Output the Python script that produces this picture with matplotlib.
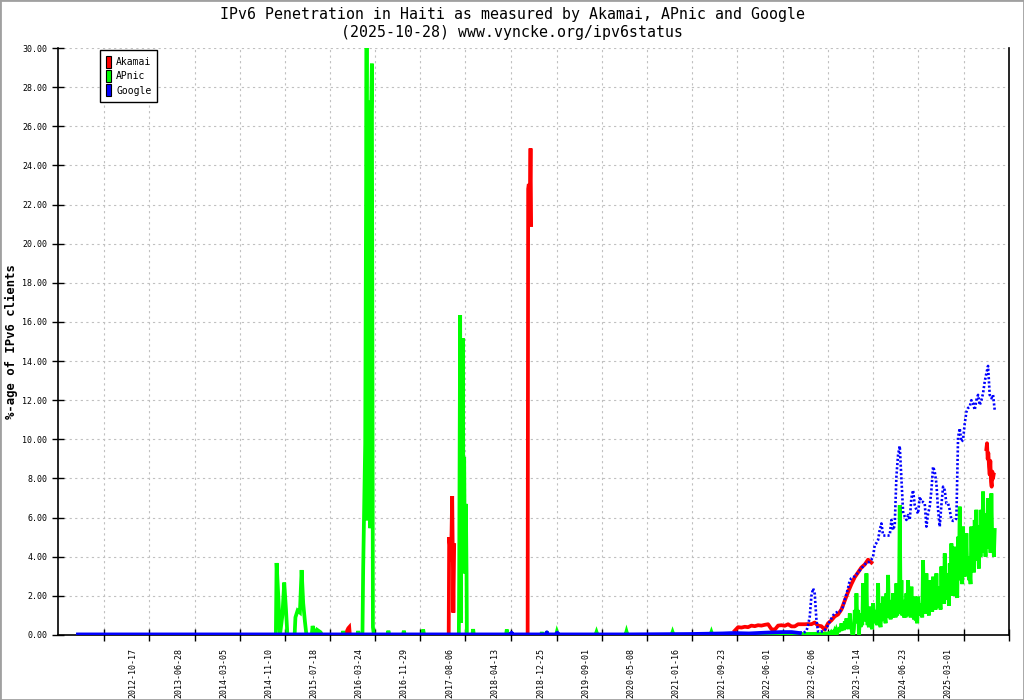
import numpy as np
import pandas as pd
import matplotlib
matplotlib.use('Agg')
import matplotlib.pyplot as plt
from matplotlib.patches import Patch, Rectangle
import matplotlib.transforms as mtransforms

nan = np.nan

# Akamai: einzelne Spitzen (Dezimaljahre) und die letzten Perioden
akamai_years = [2015.780, 2015.786, 2015.801, 2015.816, 2015.829, 2015.839, 2015.840,
                2017.340, 2017.347, 2017.358, 2017.369, 2017.381, 2017.393, 2017.411, 2017.423, 2017.424,
                2018.539, 2018.547, 2018.557, 2018.568, 2018.583, 2018.592, 2018.593]
akamai_vals = [0.00, 0.10, 0.25, 0.35, 0.40, 0.00, nan,
               0.00, 5.00, 4.60, 3.75, 4.80, 7.10, 1.14, 4.60, nan,
               0.00, 22.80, 23.05, 20.95, 24.87, 20.95, nan]
akamai_recent_span = (2021.685, 2023.760)
akamai_recent = [0.22, 0.40, 0.38, 0.42, 0.40, 0.48, 0.45, 0.50, 0.48, 0.52,
                 0.55, 0.30, 0.27, 0.48, 0.50, 0.47, 0.55, 0.44, 0.44, 0.55,
                 0.55, 0.55, 0.56, 0.55, 0.64, 0.48, 0.45, 0.27, 0.60, 0.75,
                 0.95, 1.05, 1.30, 1.75, 2.20, 2.60, 2.95, 3.20, 3.45, 3.60,
                 3.85, 3.70]
akamai_late_span = (2025.506, 2025.617)
akamai_late = [9.50, 9.80, 9.00, 9.30, 8.60, 8.20, 8.90, 7.84, 7.58, 8.35, 8.00, 8.20]

# APnic
apnic_years = [2011.709, 2014.715, 2014.726, 2014.754, 2014.777, 2014.814, 2014.842, 2014.868, 2014.890,
               2015.000, 2015.012, 2015.045, 2015.080, 2015.106, 2015.130, 2015.156, 2015.179,
               2015.260, 2015.273, 2015.297, 2015.320, 2015.343, 2015.394, 2015.414,
               2015.725, 2015.738, 2015.750, 2015.952, 2015.965, 2015.978,
               2016.030, 2016.041, 2016.072, 2016.093, 2016.108, 2016.117, 2016.132, 2016.148,
               2016.158, 2016.173, 2016.189, 2016.204,
               2016.410, 2016.424, 2016.438, 2016.645, 2016.659, 2016.673, 2016.938, 2016.952, 2016.966,
               2017.494, 2017.499, 2017.514, 2017.525, 2017.535, 2017.545, 2017.555, 2017.566,
               2017.575, 2017.586, 2017.601, 2017.611, 2017.616,
               2017.700, 2017.711, 2017.722, 2018.210, 2018.223, 2018.236,
               2018.745, 2018.755, 2018.765, 2018.820, 2018.831, 2018.842, 2018.970, 2018.982, 2018.995,
               2019.570, 2019.585, 2019.600, 2020.025, 2020.040, 2020.055,
               2020.725, 2020.740, 2020.755, 2021.315, 2021.330, 2021.345,
               2021.660, 2022.500, 2022.900, 2023.100]
apnic_vals = [0.00, 0.00, 3.68, 1.83, 0.00, 1.00, 2.68, 1.33, 0.00,
              0.00, 0.90, 1.25, 1.15, 3.32, 1.63, 0.70, 0.00,
              0.00, 0.46, 0.18, 0.00, 0.26, 0.14, 0.00,
              0.00, 0.20, 0.00, 0.00, 0.20, 0.00,
              0.00, 3.38, 9.78, 30.00, 5.86, 27.30, 20.70, 5.46,
              25.80, 29.20, 0.40, 0.00,
              0.00, 0.22, 0.00, 0.00, 0.22, 0.00, 0.00, 0.28, 0.00,
              0.00, 2.80, 16.35, 0.63, 11.80, 3.20, 15.16, 3.20,
              9.10, 3.15, 6.70, 3.15, 0.00,
              0.00, 0.30, 0.00, 0.00, 0.28, 0.00,
              0.00, 0.15, 0.00, 0.00, 0.18, 0.00, 0.00, 0.15, 0.00,
              0.00, 0.15, 0.00, 0.00, 0.18, 0.00,
              0.00, 0.15, 0.00, 0.00, 0.15, 0.00,
              0.03, 0.04, 0.06, 0.08]
apnic_recent_span = (2023.128, 2025.633)
apnic_recent = [0.10, 0.12, 0.12, 0.20, 0.25, 0.30, 0.40, 0.60, 0.50, 0.70,
                0.85, 0.60, 1.10, 0.40, 0.00, 1.28, 2.13, 1.28, 0.77, 1.10,
                2.64, 1.80, 3.15, 0.60, 1.45, 0.43, 1.62, 1.28, 0.94, 2.64,
                0.60, 1.62, 1.96, 0.94, 2.13, 3.07, 1.45, 1.79, 2.13, 1.45,
                2.64, 1.96, 6.64, 2.80, 1.79, 1.60, 2.13, 2.80, 1.45, 2.47,
                1.28, 1.96, 0.94, 1.96, 1.62, 1.45, 3.83, 1.96, 3.15, 1.62,
                2.80, 2.13, 2.98, 2.13, 3.15, 2.47, 1.96, 3.50, 2.80, 4.17,
                3.15, 2.47, 3.66, 4.68, 3.15, 4.51, 2.13, 5.02, 6.56, 4.17,
                5.54, 4.86, 5.20, 4.00, 3.15, 5.54, 4.86, 5.88, 6.40, 4.60,
                5.62, 6.40, 7.33, 5.20, 6.20, 7.00, 5.20, 7.24, 4.86, 5.37]
# untere Kante des APnic-Bandes, jeweils zwischen zwei Werten oben
apnic_recent_low = [0.02, 0.05, 0.05, 0.10, 0.12, 0.15, 0.20, 0.25, 0.25, 0.30,
                    0.40, 0.30, 0.50, 0.00, 0.30, 0.60, 0.70, 0.00, 0.40, 0.50,
                    0.80, 0.70, 0.60, 0.40, 0.50, 0.30, 0.70, 0.60, 0.50, 0.70,
                    0.40, 0.80, 0.90, 0.60, 0.90, 1.00, 0.80, 0.90, 1.00, 0.90,
                    1.00, 1.10, 1.20, 1.00, 0.90, 0.90, 1.10, 1.00, 0.90, 1.00,
                    0.80, 0.90, 0.60, 1.00, 1.00, 0.90, 1.20, 1.10, 1.30, 1.00,
                    1.30, 1.20, 1.40, 1.30, 1.50, 1.40, 1.30, 1.70, 1.60, 2.00,
                    1.80, 1.50, 2.00, 2.30, 2.00, 2.40, 1.90, 2.80, 3.20, 2.60,
                    3.00, 3.00, 3.20, 2.80, 2.60, 3.40, 3.20, 3.80, 4.00, 3.40,
                    4.00, 4.20, 4.60, 4.00, 4.40, 4.80, 4.20, 4.80, 4.00, 4.40]

# Google
google_years = [2011.709, 2013.000, 2015.000, 2017.000, 2018.280, 2018.295, 2018.310,
                2018.820, 2018.831, 2018.842, 2018.975, 2018.990, 2019.005,
                2020.000, 2021.000, 2021.500, 2021.660, 2021.900, 2022.150, 2022.400, 2022.550, 2022.672]
google_vals = [0.03, 0.03, 0.03, 0.03, 0.03, 0.12, 0.03,
               0.03, 0.14, 0.03, 0.03, 0.12, 0.03,
               0.03, 0.05, 0.08, 0.10, 0.08, 0.12, 0.15, 0.15, 0.10]
google_recent_span = (2022.672, 2025.633)
google_recent = [0.10, 0.12, 0.10, 0.15, 0.20, 0.50, 0.94, 2.00, 2.38, 2.10,
                 0.77, 0.17, 0.15, 0.18, 0.17, 0.25, 0.35, 0.50, 0.70, 0.85,
                 1.00, 1.10, 1.15, 1.20, 1.20, 1.30, 1.45, 1.80, 2.10, 2.40,
                 2.80, 2.90, 2.95, 3.00, 3.10, 3.20, 3.30, 3.40, 3.50, 3.60,
                 3.70, 3.72, 3.75, 3.85, 4.00, 4.60, 4.70, 4.86, 5.37, 5.70,
                 5.10, 5.08, 5.08, 5.08, 5.10, 5.88, 5.37, 5.60, 8.10, 9.20,
                 9.66, 8.00, 6.30, 6.05, 5.88, 6.13, 5.88, 7.00, 7.40, 6.64,
                 6.40, 6.20, 7.07, 6.80, 6.80, 6.73, 5.54, 6.20, 6.56, 7.40,
                 8.60, 8.35, 7.75, 6.40, 5.54, 6.64, 7.58, 7.40, 6.73, 6.73,
                 6.40, 5.88, 5.83, 5.85, 5.96, 10.10, 10.56, 9.88, 9.97, 10.80,
                 11.40, 11.60, 11.67, 12.00, 11.84, 11.50, 12.00, 12.27, 11.75, 12.00,
                 12.35, 12.95, 13.37, 13.75, 12.27, 12.10, 12.27, 11.50]

tick_dates = ['2012-02-08', '2012-10-17', '2013-06-28', '2014-03-05', '2014-11-10', '2015-07-18',
              '2016-03-24', '2016-11-29', '2017-08-06', '2018-04-13', '2018-12-25', '2019-09-01',
              '2020-05-08', '2021-01-16', '2021-09-23', '2022-06-01', '2023-02-06', '2023-10-14',
              '2024-06-23', '2025-03-01', '2025-11-07']
tick_labels = [''] + tick_dates[1:-1] + ['']

x_range = (2011.406, 2025.850)
y_ticks = np.arange(0, 31, 2)


def dezimaljahr(s):
    d = pd.Timestamp(s)
    tage = 366 if d.is_leap_year else 365
    return d.year + (d.dayofyear - 1) / tage


def spanne(span, vals):
    return np.linspace(span[0], span[1], len(vals))


mono = 'DejaVu Sans Mono'
RED, GREEN, BLUE = '#ff0000', '#00ff00', '#0000ff'
lw = 2.7

fig = plt.figure(figsize=(10.24, 7.0), dpi=100)
ax = fig.add_axes([58 / 1024, 65 / 700, 951 / 1024, 587 / 700])

# Akamai
ax.plot(akamai_years, akamai_vals, color=RED, lw=lw, solid_joinstyle='miter', zorder=2)
ax.plot(spanne(akamai_recent_span, akamai_recent), akamai_recent, color=RED, lw=lw, zorder=2)
ax.plot(spanne(akamai_late_span, akamai_late), akamai_late, color=RED, lw=lw, zorder=2)

# APnic (oben und unten abwechselnd, damit das Band gefuellt wirkt)
ap_x = spanne(apnic_recent_span, apnic_recent)
ap_dx = (ap_x[1] - ap_x[0]) / 2
ap_xx = np.column_stack([ap_x, ap_x + ap_dx]).ravel()[:-1]
ap_yy = np.column_stack([apnic_recent, apnic_recent_low]).ravel()[:-1]
ax.plot(apnic_years, apnic_vals, color=GREEN, lw=lw, solid_joinstyle='miter', zorder=3)
ax.plot(ap_xx, ap_yy, color=GREEN, lw=lw, solid_joinstyle='miter', zorder=3)

# Google
ax.plot(google_years, google_vals, color=BLUE, lw=lw, zorder=4)
ax.plot(spanne(google_recent_span, google_recent), google_recent, color=BLUE, lw=1.9,
        linestyle=(0, (0.8, 0.8)), dash_capstyle='butt', zorder=4)

ax.set_xlim(*x_range)
ax.set_ylim(0, 30)
ax.set_yticks(y_ticks)
ax.set_yticklabels(['%.2f' % v for v in y_ticks], family=mono, fontsize=6)
ax.set_xticks([dezimaljahr(d) for d in tick_dates])
ax.set_xticklabels(tick_labels, rotation=90, family=mono, fontsize=6, va='top', ha='center')
ax.tick_params(axis='both', direction='inout', length=8, width=1, color='black')
ax.tick_params(axis='x', pad=5.5)
ax.tick_params(axis='y', pad=3.6)

# Beschriftungen wie bei gnuplot etwas nach links verschoben
verschiebung = mtransforms.ScaledTranslation(-16 / 100, 0, fig.dpi_scale_trans)
for lab in ax.get_xticklabels():
    lab.set_transform(lab.get_transform() + verschiebung)

ax.grid(True, color='#c0c0c0', linestyle=(0, (2, 3)), linewidth=0.8)
ax.set_axisbelow(True)
ax.spines['top'].set_visible(False)
for s in ['left', 'right', 'bottom']:
    ax.spines[s].set_linewidth(1.2)
    ax.spines[s].set_color('black')

fig.text(11 / 1024, 1 - 342 / 700, '%-age of IPv6 clients', rotation=90, ha='center', va='center',
         family=mono, fontsize=8.8, fontweight='bold')

fig.text(0.5, 1 - 14 / 700, 'IPv6 Penetration in Haiti as measured by Akamai, APnic and Google',
         ha='center', va='center', family=mono, fontsize=10.7)
fig.text(0.5, 1 - 32 / 700, '(2025-10-28) www.vyncke.org/ipv6status',
         ha='center', va='center', family=mono, fontsize=10.7)

handles = [Patch(facecolor=RED, edgecolor='black', lw=0.8),
           Patch(facecolor=GREEN, edgecolor='black', lw=0.8),
           Patch(facecolor=BLUE, edgecolor='black', lw=0.8)]
leg = fig.legend(handles, ['Akamai', 'APnic', 'Google'], loc='upper left',
                 bbox_to_anchor=(100 / 1024, 1 - 50 / 700), borderaxespad=0,
                 prop={'family': mono, 'size': 7}, handlelength=0.55, handleheight=1.5,
                 labelspacing=0.25, handletextpad=0.5, borderpad=0.6, fancybox=False,
                 framealpha=1, edgecolor='black')
leg.get_frame().set_linewidth(1.0)

fig.patches.append(Rectangle((0, 0), 1, 1, transform=fig.transFigure, fill=False,
                             edgecolor='#a0a0a0', linewidth=2))

fig.savefig('out.png', dpi=100)
